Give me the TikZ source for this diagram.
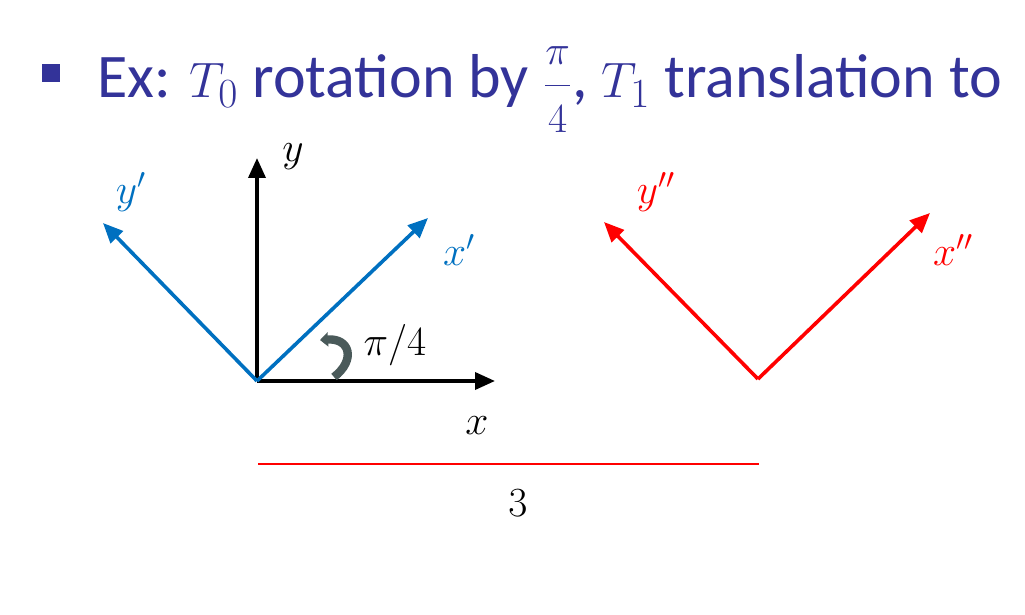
\documentclass[tikz,border=0pt]{standalone}
\usepackage{fontspec}
\setmainfont{Carlito}
\usetikzlibrary{arrows.meta}
\definecolor{titleblue}{HTML}{333399}
\definecolor{axblue}{HTML}{0070C0}
\definecolor{axred}{HTML}{FF0000}
\definecolor{arcgray}{HTML}{4A5A5A}
\tikzset{
  axis/.style={line width=1.8pt,-{Triangle[length=10pt,width=8.5pt]}},
  lbl/.style={inner sep=0pt,font=\fontsize{22}{26}\selectfont},
}
\begin{document}
\begin{tikzpicture}[x=0.5pt,y=-0.5pt]
\useasboundingbox (0,0) rectangle (1025,615);
% title
\node[fill=titleblue,minimum size=9pt,inner sep=0pt] (bullet) at (51,73) {};
\node[anchor=base west,inner sep=0pt,text=titleblue,font=\fontsize{31}{37}\selectfont] (title) at (97,98)
  {Ex: $T_0$ rotation by $\displaystyle\frac{\scriptstyle\pi}{\scriptstyle 4}$, $T_1$ translation to};
% black axes
\coordinate (O) at (257,381);
\coordinate (X) at (495,381);
\coordinate (Y) at (257,158);
\draw[axis,black] (O) -- (X);
\draw[axis,black] (O) -- (Y);
% blue rotated axes
\coordinate (Xp) at (428,218);
\coordinate (Yp) at (103,223);
\draw[axis,axblue] (O) -- (Xp);
\draw[axis,axblue] (O) -- (Yp);
% red translated axes
\coordinate (O2) at (758,379);
\coordinate (Xpp) at (930,213);
\coordinate (Ypp) at (604,222);
\draw[axis,axred] (O2) -- (Xpp);
\draw[axis,axred] (O2) -- (Ypp);
% angle arrow
\coordinate (A1) at (334,377);
\coordinate (A2) at (320,340);
\draw[arcgray,line width=4.2pt,-{Triangle[length=4pt,width=7pt]}] (A1) .. controls (356,360) and (350,338) .. (A2);
% labels
\node[lbl] (ly) at (293,157) {$y$};
\node[lbl] (lx) at (477,426) {$x$};
\node[lbl,text=axblue] (lyp) at (131,192) {$y'$};
\node[lbl,text=axblue] (lxp) at (459,250) {$x'$};
\node[lbl,text=axred] (lypp) at (656,192) {$y''$};
\node[lbl,text=axred] (lxpp) at (953,250) {$x''$};
\node[lbl,font=\fontsize{20}{24}\selectfont] (lang) at (395,345) {$\pi/4$};
% distance
\coordinate (D1) at (258,464);
\coordinate (D2) at (759,464);
\draw[axred,line width=1.2pt] (D1) -- (D2);
\node[lbl,font=\fontsize{21}{25}\selectfont] (l3) at (518,503) {$3$};
\end{tikzpicture}
\end{document}
